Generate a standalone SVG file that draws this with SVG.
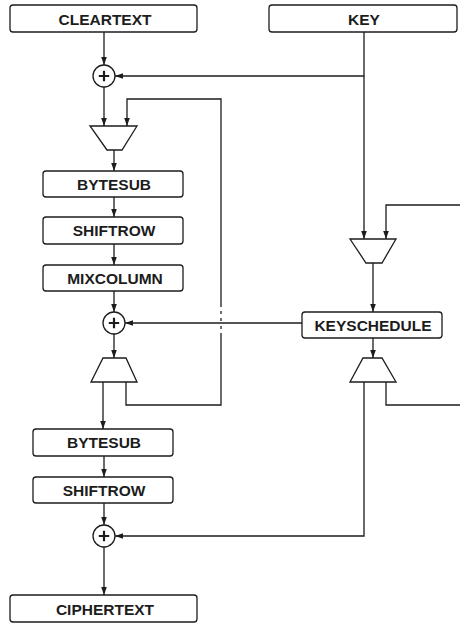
<svg xmlns="http://www.w3.org/2000/svg" width="460" height="623" viewBox="0 0 460 623">
  <defs>
    <marker id="arrow" markerUnits="userSpaceOnUse" markerWidth="8" markerHeight="8" viewBox="0 0 8 8" refX="8" refY="4" orient="auto">
      <path d="M0,1.2 L8,4 L0,6.8 Z" fill="#1c1c1c"/>
    </marker>
  </defs>
  <style>
    .box { fill: #ffffff; stroke: #1c1c1c; stroke-width: 1.3; }
    .lbl { font-family: "Liberation Sans", Arial, sans-serif; font-weight: bold; font-size: 15.5px; fill: #1c1c1c; text-anchor: middle; }
    .wire { fill: none; stroke: #1c1c1c; stroke-width: 1.3; }
    .arr { marker-end: url(#arrow); }
    .xor { fill: #ffffff; stroke: #1c1c1c; stroke-width: 1.3; }
    .plus { stroke: #1c1c1c; stroke-width: 2.2; fill: none; }
    .mux { fill: #ffffff; stroke: #1c1c1c; stroke-width: 1.3; stroke-linejoin: miter; }
  </style>
  <rect width="460" height="623" fill="#ffffff"/>

  <!-- connectors -->
  <g id="connectors">
    <!-- cleartext into first xor -->
    <line class="wire arr" x1="104" y1="32" x2="104" y2="65"/>
    <!-- key into first xor -->
    <polyline class="wire arr" points="364,32 364,76 115,76"/>
    <!-- key down to key mux -->
    <line class="wire arr" x1="364" y1="76" x2="364" y2="239"/>
    <!-- key feedback into key mux -->
    <polyline class="wire arr" points="460,205 386,205 386,239"/>
    <!-- key mux to keyschedule -->
    <line class="wire arr" x1="373" y1="263" x2="373" y2="312"/>
    <!-- keyschedule to key demux -->
    <line class="wire arr" x1="373" y1="338" x2="373" y2="358"/>
    <!-- key demux feedback out -->
    <polyline class="wire" points="386,382 386,405 460,405"/>
    <!-- key demux to last xor -->
    <polyline class="wire arr" points="364,382 364,536 115,536"/>
    <!-- round key to round xor -->
    <line class="wire arr" x1="302" y1="323" x2="125" y2="323"/>

    <!-- first xor to data mux -->
    <line class="wire arr" x1="104" y1="87" x2="104" y2="126"/>
    <!-- data loop feedback, broken where it crosses the round-key wire -->
    <polyline class="wire arr" points="221,307 221,99 127,99 127,126"/>
    <line class="wire" x1="221" y1="311" x2="221" y2="314"/>
    <line class="wire" x1="221" y1="318" x2="221" y2="321"/>
    <line class="wire" x1="221" y1="326" x2="221" y2="329"/>
    <polyline class="wire" points="126,382 126,405 221,405 221,333"/>
    <!-- data mux through round -->
    <line class="wire arr" x1="114" y1="150" x2="114" y2="171"/>
    <line class="wire arr" x1="114" y1="197" x2="114" y2="217"/>
    <line class="wire arr" x1="114" y1="244" x2="114" y2="265"/>
    <line class="wire arr" x1="114" y1="291" x2="114" y2="312"/>
    <line class="wire arr" x1="114" y1="334" x2="114" y2="358"/>
    <!-- data demux to final round -->
    <line class="wire arr" x1="103" y1="382" x2="103" y2="429"/>
    <line class="wire arr" x1="104" y1="456" x2="104" y2="477"/>
    <line class="wire arr" x1="104" y1="503" x2="104" y2="525"/>
    <line class="wire arr" x1="104" y1="547" x2="104" y2="595"/>
  </g>

  <g id="cleartext">
    <rect class="box" x="10" y="5" width="187" height="27" rx="3"/>
    <text class="lbl" x="105" y="24.5">CLEARTEXT</text>
  </g>
  <g id="key">
    <rect class="box" x="269" y="5" width="188" height="27" rx="3"/>
    <text class="lbl" x="364" y="24.5">KEY</text>
  </g>

  <g id="xor1">
    <circle class="xor" cx="104" cy="76" r="11"/>
    <path class="plus" d="M98.8,76 H109.2 M104,70.8 V81.2"/>
  </g>

  <g id="mux-data">
    <polygon class="mux" points="90,126 137,126 122,150 107,150"/>
  </g>

  <g id="bytesub1">
    <rect class="box" x="43" y="171" width="140" height="26" rx="3"/>
    <text class="lbl" x="114" y="189.5">BYTESUB</text>
  </g>
  <g id="shiftrow1">
    <rect class="box" x="43" y="217" width="140" height="27" rx="3"/>
    <text class="lbl" x="114" y="236">SHIFTROW</text>
  </g>
  <g id="mixcolumn">
    <rect class="box" x="43" y="265" width="140" height="26" rx="3"/>
    <text class="lbl" x="115" y="283.5">MIXCOLUMN</text>
  </g>

  <g id="xor2">
    <circle class="xor" cx="114" cy="323" r="11"/>
    <path class="plus" d="M108.8,323 H119.2 M114,317.8 V328.2"/>
  </g>

  <g id="demux-data">
    <polygon class="mux" points="103,358 126,358 137,382 91,382"/>
  </g>

  <g id="mux-key">
    <polygon class="mux" points="350,239 396,239 382,263 366,263"/>
  </g>
  <g id="keyschedule">
    <rect class="box" x="302" y="312" width="140" height="26" rx="3"/>
    <text class="lbl" x="373" y="330.5">KEYSCHEDULE</text>
  </g>
  <g id="demux-key">
    <polygon class="mux" points="363,358 382,358 396,382 350,382"/>
  </g>

  <g id="bytesub2">
    <rect class="box" x="33" y="429" width="140" height="27" rx="3"/>
    <text class="lbl" x="104" y="448">BYTESUB</text>
  </g>
  <g id="shiftrow2">
    <rect class="box" x="33" y="477" width="140" height="26" rx="3"/>
    <text class="lbl" x="104" y="495.5">SHIFTROW</text>
  </g>

  <g id="xor3">
    <circle class="xor" cx="104" cy="536" r="11"/>
    <path class="plus" d="M98.8,536 H109.2 M104,530.8 V541.2"/>
  </g>

  <g id="ciphertext">
    <rect class="box" x="10" y="595" width="187" height="27" rx="3"/>
    <text class="lbl" x="105" y="614.5">CIPHERTEXT</text>
  </g>
</svg>
